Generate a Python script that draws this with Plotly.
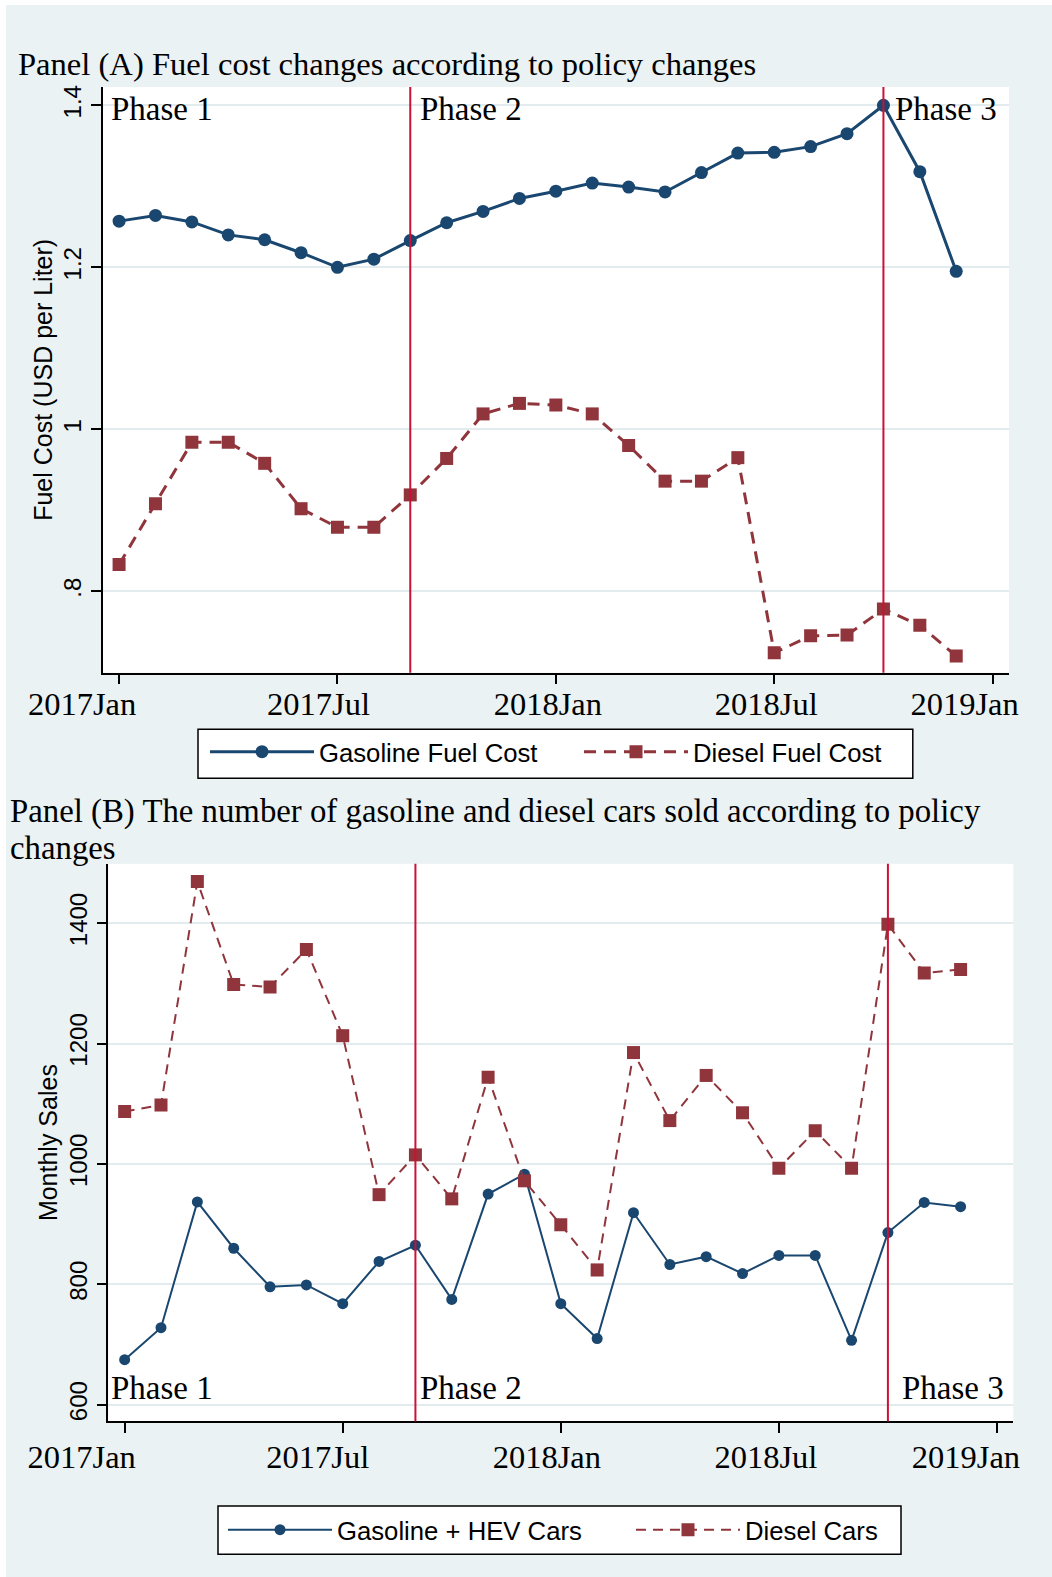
import plotly.graph_objects as go

# ---- data -------------------------------------------------------------
months = ["2017-01", "2017-02", "2017-03", "2017-04", "2017-05", "2017-06",
          "2017-07", "2017-08", "2017-09", "2017-10", "2017-11", "2017-12",
          "2018-01", "2018-02", "2018-03", "2018-04", "2018-05", "2018-06",
          "2018-07", "2018-08", "2018-09", "2018-10", "2018-11", "2018-12"]

gasoline_cost = [1.257, 1.264, 1.256, 1.240, 1.234, 1.218, 1.200, 1.210,
                 1.233, 1.255, 1.269, 1.285, 1.294, 1.304, 1.299, 1.293,
                 1.317, 1.341, 1.342, 1.349, 1.365, 1.400, 1.318, 1.195]
diesel_cost = [0.833, 0.908, 0.984, 0.984, 0.958, 0.902, 0.879, 0.879,
               0.919, 0.964, 1.019, 1.032, 1.030, 1.019, 0.980, 0.936,
               0.936, 0.965, 0.724, 0.745, 0.746, 0.778, 0.758, 0.720]

gasoline_hev_sales = [675, 728, 937, 860, 796, 799, 768, 838, 865, 775, 950, 983,
                      768, 710, 919, 833, 846, 818, 848, 848, 707, 886, 936, 929]
diesel_sales = [1087, 1098, 1469, 1298, 1294, 1356, 1213, 949, 1015, 942, 1144, 972,
                899, 824, 1185, 1072, 1147, 1085, 993, 1055, 993, 1398, 1317, 1323]

phase_starts = ["2017-09", "2018-10"]
phase_names = ["Phase 1", "Phase 2", "Phase 3"]

tick_months = ["2017-01", "2017-07", "2018-01", "2018-07", "2019-01"]
tick_text = ["2017Jan", "2017Jul", "2018Jan", "2018Jul", "2019Jan"]

cost_ticks = [0.8, 1.0, 1.2, 1.4]
cost_tick_text = [".8", "1", "1.2", "1.4"]
sales_ticks = [600, 800, 1000, 1200, 1400]
sales_tick_text = ["600", "800", "1000", "1200", "1400"]

# ---- helpers ----------------------------------------------------------
W, H = 1052, 1577


def month_index(m):
    y, mo = m.split("-")
    return (int(y) - 2017) * 12 + int(mo) - 1


def px(xp):
    return xp / W


def py(yp):
    return 1 - yp / H


x = [month_index(m) for m in months]
ticks = [month_index(m) for m in tick_months]
phase_x = [month_index(m) for m in phase_starts]

NAVY = "#1a476f"
MAROON = "#90353b"
RED = "#cc1036"
BG = "#eaf2f3"
GRID = "#e2ebee"
SERIF = "Liberation Serif, Times New Roman, serif"
SANS = "Liberation Sans, Arial, sans-serif"

xrange = [-0.45, 24.45]
dom_a_x = [px(102.7), px(1009)]
dom_a_y = [py(672.7), py(87)]
dom_b_x = [px(108.3), px(1013.3)]
dom_b_y = [py(1421.4), py(863.8)]
px_per_month_a = (dom_a_x[1] - dom_a_x[0]) * W / (xrange[1] - xrange[0])
px_per_month_b = (dom_b_x[1] - dom_b_x[0]) * W / (xrange[1] - xrange[0])

# date labels sit left of their tick marks (pixel offsets per label)
label_offset_a = [-37, -19, -8, -8, -28]
label_offset_b = [-43, -25, -14, -13, -31]
shift_a, shift_b = -25, -30
label_pos_a = [t + (o - shift_a) / px_per_month_a for t, o in zip(ticks, label_offset_a)]
label_pos_b = [t + (o - shift_b) / px_per_month_b for t, o in zip(ticks, label_offset_b)]

fig = go.Figure()

# ---- panel A: fuel cost ----------------------------------------------
fig.add_trace(go.Scatter(
    x=x, y=gasoline_cost, name="Gasoline Fuel Cost", mode="lines+markers",
    line=dict(color=NAVY, width=3), marker=dict(symbol="circle", size=13, color=NAVY),
    xaxis="x", yaxis="y", legend="legend"))
fig.add_trace(go.Scatter(
    x=x, y=diesel_cost, name="Diesel Fuel Cost", mode="lines+markers",
    line=dict(color=MAROON, width=3, dash="12px,8px"),
    marker=dict(symbol="square", size=13, color=MAROON),
    xaxis="x", yaxis="y", legend="legend"))

# ---- panel B: monthly sales -------------------------------------------
fig.add_trace(go.Scatter(
    x=x, y=gasoline_hev_sales, name="Gasoline + HEV Cars", mode="lines+markers",
    line=dict(color=NAVY, width=2), marker=dict(symbol="circle", size=11, color=NAVY),
    xaxis="x2", yaxis="y2", legend="legend2"))
fig.add_trace(go.Scatter(
    x=x, y=diesel_sales, name="Diesel Cars", mode="lines+markers",
    line=dict(color=MAROON, width=2, dash="10px,7px"),
    marker=dict(symbol="square", size=13, color=MAROON),
    xaxis="x2", yaxis="y2", legend="legend2"))

line_style = dict(showline=True, linecolor="black", linewidth=1.5, zeroline=False)
month_ticks = dict(tickvals=ticks, ticks="outside", ticklen=10, tickwidth=1.5,
                   tickcolor="black", showgrid=False)
y_ticks = dict(ticks="outside", ticklen=10, tickwidth=1.5, tickcolor="black")

fig.update_layout(
    width=W, height=H,
    margin=dict(l=0, r=0, t=0, b=0, autoexpand=False),
    paper_bgcolor=BG, plot_bgcolor="white",
    xaxis=dict(domain=dom_a_x, range=xrange, anchor="y",
               tickvals=label_pos_a, ticktext=tick_text, ticklabelshift=shift_a,
               ticks="", showgrid=False, minor=month_ticks, ticklabelstandoff=2,
               tickfont=dict(family=SERIF, size=32.5, color="black"), **line_style),
    yaxis=dict(domain=dom_a_y, range=[0.6995, 1.4226], anchor="x",
               tickvals=cost_ticks, ticktext=cost_tick_text, tickangle=-90,
               ticklabelstandoff=0,
               tickfont=dict(family=SANS, size=24, color="black"),
               showgrid=True, gridcolor=GRID, gridwidth=1.5,
               title=dict(text="Fuel Cost (USD per Liter)", standoff=0,
                          font=dict(family=SANS, size=25, color="black")),
               **y_ticks, **line_style),
    xaxis2=dict(domain=dom_b_x, range=xrange, anchor="y2",
                tickvals=label_pos_b, ticktext=tick_text, ticklabelshift=shift_b,
                ticks="", showgrid=False, minor=month_ticks, ticklabelstandoff=6,
                tickfont=dict(family=SERIF, size=32.5, color="black"), **line_style),
    yaxis2=dict(domain=dom_b_y, range=[572.4, 1498.5], anchor="x2",
                tickvals=sales_ticks, ticktext=sales_tick_text, tickangle=-90,
                ticklabelstandoff=0,
                tickfont=dict(family=SANS, size=24, color="black"),
                showgrid=True, gridcolor=GRID, gridwidth=1.5,
                title=dict(text="Monthly Sales", standoff=0,
                           font=dict(family=SANS, size=25, color="black")),
                **y_ticks, **line_style),
    legend=dict(orientation="h", x=px(205), xanchor="left", y=py(752), yanchor="middle",
                bgcolor="rgba(0,0,0,0)", borderwidth=0, itemwidth=104,
                entrywidth=255, entrywidthmode="pixels",
                font=dict(family=SANS, size=25.7, color="black")),
    legend2=dict(orientation="h", x=px(223), xanchor="left", y=py(1530), yanchor="middle",
                 bgcolor="rgba(0,0,0,0)", borderwidth=0, itemwidth=104,
                 entrywidth=289, entrywidthmode="pixels",
                 font=dict(family=SANS, size=25.7, color="black")),
    showlegend=True,
)

shapes = [
    # white page edge
    dict(type="rect", xref="paper", yref="paper", x0=0, x1=px(6), y0=0, y1=1,
         fillcolor="white", line=dict(width=0), layer="below"),
    dict(type="rect", xref="paper", yref="paper", x0=0, x1=1, y0=py(5), y1=1,
         fillcolor="white", line=dict(width=0), layer="below"),
    # legend frames
    dict(type="rect", xref="paper", yref="paper", x0=px(198), x1=px(912.8),
         y0=py(778.3), y1=py(729.3), fillcolor="white",
         line=dict(color="black", width=1.5), layer="below"),
    dict(type="rect", xref="paper", yref="paper", x0=px(218), x1=px(901),
         y0=py(1554.3), y1=py(1506), fillcolor="white",
         line=dict(color="black", width=1.5), layer="below"),
]
# policy change markers
for xa, ya in (("x", "y"), ("x2", "y2")):
    for p in phase_x:
        shapes.append(dict(type="line", xref=xa, yref=f"{ya} domain", x0=p, x1=p,
                           y0=0, y1=1, line=dict(color=RED, width=2), layer="above"))
fig.update_layout(shapes=shapes)

annotations = [
    dict(text="Panel (A) Fuel cost changes according to policy changes",
         xref="paper", yref="paper", x=px(16), y=py(64), xanchor="left", yanchor="middle",
         showarrow=False, font=dict(family=SERIF, size=32.6, color="black")),
    dict(text="Panel (B) The number of gasoline and diesel cars sold according to policy",
         xref="paper", yref="paper", x=px(8), y=py(811), xanchor="left", yanchor="middle",
         showarrow=False, font=dict(family=SERIF, size=32.8, color="black")),
    dict(text="changes",
         xref="paper", yref="paper", x=px(8), y=py(848), xanchor="left", yanchor="middle",
         showarrow=False, font=dict(family=SERIF, size=32.8, color="black")),
]
# phase labels
phase_pos_a = [x[0] - 0.28, phase_x[0] + 0.20, phase_x[1] + 0.25]
phase_pos_b = [x[0] - 0.44, phase_x[0] + 0.08, phase_x[1] + 0.34]
for name, xa in zip(phase_names, phase_pos_a):
    annotations.append(dict(text=name, x=xa, y=1.395, xref="x", yref="y",
                            xanchor="left", yanchor="middle", showarrow=False,
                            font=dict(family=SERIF, size=33, color="black")))
for name, xb in zip(phase_names, phase_pos_b):
    annotations.append(dict(text=name, x=xb, y=628, xref="x2", yref="y2",
                            xanchor="left", yanchor="middle", showarrow=False,
                            font=dict(family=SERIF, size=33, color="black")))
fig.update_layout(annotations=annotations)

fig.write_html("out.html")
